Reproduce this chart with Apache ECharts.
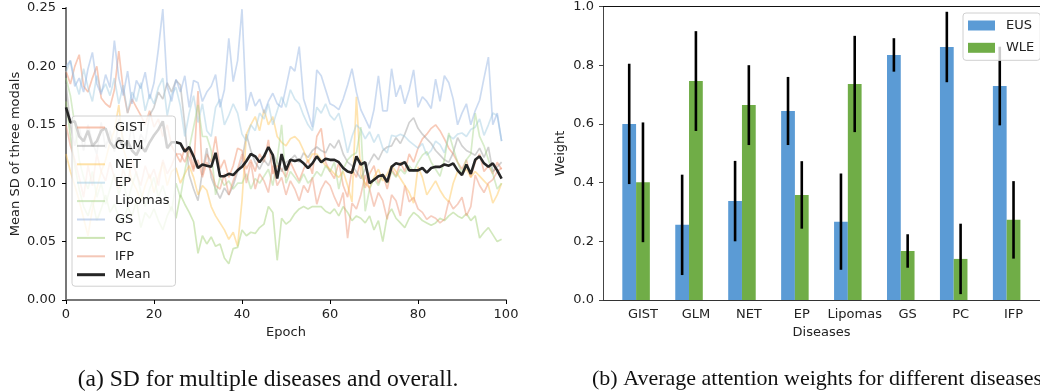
<!DOCTYPE html>
<html>
<head>
<meta charset="utf-8">
<script src="https://cdn.jsdelivr.net/npm/echarts@6/dist/echarts.min.js"></script>
<style>
  html, body { margin: 0; padding: 0; background: #fff; }
  #chart { width: 1040px; height: 392px; }
</style>
</head>
<body>
<div id="chart"></div>
<script>
// ---- left panel: SD per epoch ----
const epochs = Array.from({ length: 100 }, (_, i) => i);
const sdTicks = [0, 0.05, 0.1, 0.15, 0.2, 0.25];

const gist = [
  0.196, 0.185, 0.200, 0.210, 0.183, 0.178, 0.190, 0.200, 0.173, 0.168,
  0.165, 0.180, 0.213, 0.180, 0.160, 0.172, 0.165, 0.158, 0.150, 0.162,
  0.148, 0.155, 0.140, 0.150, 0.132, 0.125, 0.118, 0.130, 0.122, 0.110,
  0.179, 0.107, 0.125, 0.118, 0.140, 0.112, 0.120, 0.105, 0.115, 0.130,
  0.128, 0.112, 0.120, 0.110, 0.125, 0.118, 0.137, 0.108, 0.115, 0.112,
  0.105, 0.118, 0.110, 0.102, 0.112, 0.120, 0.108, 0.140, 0.147, 0.118,
  0.110, 0.104, 0.118, 0.098, 0.088, 0.112, 0.105, 0.120, 0.096, 0.108,
  0.115, 0.100, 0.108, 0.095, 0.112, 0.106, 0.118, 0.110, 0.125, 0.118,
  0.130, 0.138, 0.142, 0.147, 0.150, 0.145, 0.138, 0.130, 0.125, 0.118,
  0.112, 0.120, 0.105, 0.118, 0.125, 0.110, 0.115, 0.108, 0.118, 0.112
];
const glm = [
  0.185, 0.150, 0.132, 0.148, 0.128, 0.150, 0.135, 0.125, 0.152, 0.130,
  0.145, 0.127, 0.155, 0.138, 0.130, 0.150, 0.128, 0.142, 0.135, 0.158,
  0.165, 0.178, 0.172, 0.186, 0.178, 0.188, 0.184, 0.150, 0.107, 0.095,
  0.085, 0.110, 0.130, 0.105, 0.095, 0.087, 0.096, 0.090, 0.098, 0.110,
  0.119, 0.142, 0.128, 0.118, 0.112, 0.120, 0.115, 0.125, 0.118, 0.110,
  0.118, 0.120, 0.124, 0.118, 0.126, 0.122, 0.128, 0.131, 0.128, 0.126,
  0.134, 0.130, 0.137, 0.125, 0.118, 0.115, 0.110, 0.104, 0.112, 0.118,
  0.125, 0.120, 0.128, 0.131, 0.132, 0.139, 0.134, 0.142, 0.152, 0.156,
  0.147, 0.142, 0.138, 0.134, 0.128, 0.124, 0.120, 0.118, 0.126, 0.139,
  0.132, 0.128, 0.126, 0.124, 0.130, 0.122, 0.131, 0.110, 0.114, 0.118
];
const net = [
  0.125, 0.110, 0.098, 0.085, 0.070, 0.055, 0.078, 0.095, 0.110, 0.120,
  0.135, 0.145, 0.167, 0.130, 0.118, 0.102, 0.095, 0.085, 0.098, 0.108,
  0.092, 0.105, 0.118, 0.098, 0.110, 0.113, 0.100, 0.108, 0.115, 0.105,
  0.090, 0.098, 0.094, 0.080, 0.072, 0.066, 0.060, 0.052, 0.058, 0.046,
  0.085, 0.142, 0.150, 0.157, 0.145, 0.163, 0.150, 0.157, 0.140, 0.135,
  0.132, 0.138, 0.140, 0.136, 0.128, 0.118, 0.125, 0.125, 0.120, 0.115,
  0.112, 0.108, 0.105, 0.110, 0.098, 0.084, 0.174, 0.107, 0.100, 0.096,
  0.105, 0.112, 0.102, 0.108, 0.115, 0.110, 0.104, 0.098, 0.092, 0.083,
  0.114, 0.105, 0.090, 0.096, 0.102, 0.094, 0.088, 0.084, 0.100, 0.110,
  0.108, 0.112, 0.105, 0.110, 0.106, 0.102, 0.098, 0.083, 0.090, 0.100
];
const ep = [
  0.195, 0.205, 0.188, 0.176, 0.198, 0.182, 0.170, 0.192, 0.178, 0.185,
  0.175, 0.190, 0.168, 0.184, 0.160, 0.178, 0.170, 0.186, 0.162, 0.176,
  0.168, 0.182, 0.190, 0.158, 0.176, 0.182, 0.166, 0.140, 0.160, 0.175,
  0.152, 0.168, 0.145, 0.140, 0.165, 0.172, 0.150, 0.158, 0.168, 0.160,
  0.142, 0.136, 0.150, 0.145, 0.160, 0.155, 0.168, 0.150, 0.162, 0.174,
  0.165, 0.180, 0.172, 0.168, 0.158, 0.150, 0.145, 0.165, 0.160, 0.168,
  0.158, 0.154, 0.160, 0.145, 0.126, 0.140, 0.150, 0.146, 0.138, 0.144,
  0.135, 0.142, 0.130, 0.126, 0.141, 0.140, 0.142, 0.140, 0.136, 0.133,
  0.130, 0.134, 0.124, 0.128, 0.136, 0.133, 0.126, 0.141, 0.138, 0.142,
  0.143, 0.140, 0.146, 0.148, 0.155, 0.141, 0.150, 0.160, 0.158, 0.136
];
const lipomas = [
  0.190, 0.175, 0.150, 0.120, 0.105, 0.095, 0.110, 0.088, 0.100, 0.082,
  0.095, 0.108, 0.090, 0.102, 0.085, 0.098, 0.110, 0.092, 0.080, 0.095,
  0.105, 0.088, 0.098, 0.085, 0.076, 0.100, 0.088, 0.110, 0.130, 0.148,
  0.167, 0.140, 0.140, 0.128, 0.090, 0.105, 0.098, 0.102, 0.095, 0.100,
  0.100, 0.108, 0.095, 0.104, 0.100, 0.106, 0.112, 0.098, 0.120, 0.150,
  0.100, 0.110, 0.105, 0.100, 0.108, 0.100, 0.104, 0.110, 0.106, 0.115,
  0.110, 0.118, 0.095, 0.112, 0.120, 0.124, 0.126, 0.148, 0.076, 0.095,
  0.104, 0.098, 0.108, 0.100, 0.110, 0.105, 0.112, 0.108, 0.115, 0.110,
  0.118, 0.124, 0.127, 0.118, 0.112, 0.106, 0.120, 0.143, 0.130, 0.118,
  0.108, 0.120, 0.125, 0.160, 0.140, 0.132, 0.120, 0.108, 0.095, 0.100
];
const gs = [
  0.200, 0.205, 0.183, 0.190, 0.178, 0.198, 0.212, 0.185, 0.176, 0.193,
  0.182, 0.222, 0.190, 0.175, 0.196, 0.168, 0.188, 0.181, 0.195, 0.172,
  0.186, 0.215, 0.249, 0.183, 0.170, 0.189, 0.178, 0.192, 0.165, 0.188,
  0.186, 0.170, 0.178, 0.183, 0.193, 0.165, 0.180, 0.224, 0.187, 0.205,
  0.249, 0.162, 0.178, 0.166, 0.172, 0.160, 0.170, 0.177, 0.168, 0.165,
  0.182, 0.200, 0.196, 0.217, 0.172, 0.160, 0.148, 0.197, 0.192, 0.180,
  0.168, 0.166, 0.163, 0.172, 0.184, 0.198, 0.178, 0.163, 0.155, 0.147,
  0.163, 0.192, 0.162, 0.162, 0.198, 0.174, 0.184, 0.168, 0.180, 0.197,
  0.165, 0.174, 0.170, 0.164, 0.189, 0.170, 0.192, 0.186, 0.172, 0.150,
  0.160, 0.168, 0.150, 0.162, 0.171, 0.190, 0.208, 0.150, 0.160, 0.136
];
const pc = [
  0.170, 0.140, 0.115, 0.095, 0.080, 0.072, 0.085, 0.068, 0.078, 0.090,
  0.075, 0.082, 0.070, 0.065, 0.080, 0.072, 0.085, 0.062, 0.075, 0.070,
  0.078, 0.068, 0.060, 0.072, 0.080, 0.070, 0.090, 0.082, 0.075, 0.067,
  0.040, 0.055, 0.048, 0.054, 0.046, 0.048, 0.036, 0.031, 0.044, 0.045,
  0.060, 0.055, 0.058, 0.057, 0.062, 0.065, 0.080, 0.075, 0.034, 0.070,
  0.065, 0.068, 0.074, 0.078, 0.080, 0.078, 0.080, 0.080, 0.080, 0.076,
  0.074, 0.078, 0.072, 0.080, 0.075, 0.068, 0.072, 0.070, 0.066, 0.072,
  0.060, 0.068, 0.050, 0.072, 0.078, 0.070, 0.066, 0.062, 0.070, 0.075,
  0.072, 0.068, 0.066, 0.064, 0.066, 0.070, 0.068, 0.072, 0.075, 0.072,
  0.070, 0.074, 0.068, 0.072, 0.053, 0.058, 0.062, 0.056, 0.050, 0.052
];
const ifp = [
  0.150, 0.132, 0.120, 0.105, 0.088, 0.115, 0.098, 0.125, 0.110, 0.102,
  0.118, 0.105, 0.095, 0.112, 0.100, 0.120, 0.108, 0.098, 0.115, 0.104,
  0.112, 0.098, 0.120, 0.108, 0.115, 0.125, 0.125, 0.118, 0.130, 0.112,
  0.120, 0.105, 0.118, 0.110, 0.098, 0.095, 0.108, 0.090, 0.102, 0.112,
  0.125, 0.100, 0.118, 0.095, 0.108, 0.102, 0.092, 0.115, 0.098, 0.105,
  0.090, 0.102, 0.095, 0.085, 0.098, 0.092, 0.105, 0.082, 0.095, 0.102,
  0.098, 0.088, 0.080, 0.092, 0.053, 0.083, 0.078, 0.090, 0.107, 0.095,
  0.080, 0.092, 0.085, 0.069, 0.090, 0.085, 0.072, 0.098, 0.084, 0.088,
  0.078, 0.075, 0.069, 0.072, 0.070, 0.066, 0.069, 0.085, 0.078, 0.082,
  0.088, 0.072, 0.080, 0.107, 0.098, 0.092, 0.100, 0.103, 0.110, 0.113
];
const mean = [
  0.165, 0.152, 0.153, 0.140, 0.136, 0.145, 0.132, 0.136, 0.145, 0.147,
  0.135, 0.130, 0.139, 0.131, 0.136, 0.128, 0.124, 0.132, 0.127, 0.135,
  0.141, 0.146, 0.153, 0.130, 0.135, 0.135, 0.134, 0.127, 0.131, 0.123,
  0.113, 0.116, 0.115, 0.114, 0.126, 0.106, 0.106, 0.108, 0.107, 0.111,
  0.114, 0.119, 0.125, 0.123, 0.118, 0.123, 0.131, 0.124, 0.104, 0.125,
  0.111, 0.120, 0.119, 0.120, 0.117, 0.113, 0.117, 0.123, 0.118, 0.121,
  0.120, 0.120, 0.118, 0.113, 0.110, 0.109, 0.123, 0.116, 0.118, 0.100,
  0.103, 0.106, 0.107, 0.101, 0.114, 0.117, 0.116, 0.118, 0.111, 0.111,
  0.111, 0.113, 0.109, 0.113, 0.114, 0.114, 0.116, 0.115, 0.117, 0.111,
  0.107, 0.116, 0.108, 0.120, 0.123, 0.117, 0.114, 0.117, 0.111, 0.104
];

const sdSeries = [
  { name: 'GIST', values: gist, color: '#ef8a62' },
  { name: 'GLM', values: glm, color: '#9a9a9a' },
  { name: 'NET', values: net, color: '#fec44f' },
  { name: 'EP', values: ep, color: '#9ecae1' },
  { name: 'Lipomas', values: lipomas, color: '#a6d48a' },
  { name: 'GS', values: gs, color: '#8fb0e0' },
  { name: 'PC', values: pc, color: '#9ccc6c' },
  { name: 'IFP', values: ifp, color: '#ea9070' }
];

// ---- right panel: attention weights ----
const diseases = ['GIST', 'GLM', 'NET', 'EP', 'Lipomas', 'GS', 'PC', 'IFP'];
const weightTicks = [0, 0.2, 0.4, 0.6, 0.8, 1.0];
const eus = [0.600, 0.256, 0.337, 0.644, 0.267, 0.835, 0.862, 0.729];
const eusErr = [0.205, 0.171, 0.137, 0.116, 0.164, 0.057, 0.120, 0.134];
const wle = [0.401, 0.746, 0.664, 0.358, 0.736, 0.167, 0.140, 0.273];
const wleErr = [0.204, 0.170, 0.136, 0.115, 0.164, 0.057, 0.120, 0.132];

const FONT = 'DejaVu Sans';
const SERIF = '"Liberation Serif", "Times New Roman", serif';
const THIN = 'path://M0,0H28V2H0Z';
const THICK = 'path://M0,0H28V3H0Z';

// bar + error bar drawn through the category/value scales
const barWithError = (shift) => (params, api) => {
  const idx = api.value(0);
  const top = api.coord([idx, api.value(1)]);
  const base = api.coord([idx, 0]);
  const band = api.size([1, 0])[0];
  const w = band * 0.26;
  const cx = top[0] + shift * band;
  const hi = api.coord([idx, api.value(1) + api.value(2)]);
  const lo = api.coord([idx, api.value(1) - api.value(2)]);
  return {
    type: 'group',
    children: [
      {
        type: 'rect',
        shape: { x: cx - w / 2, y: top[1], width: w, height: base[1] - top[1] },
        style: { fill: api.visual('color') }
      },
      {
        type: 'line',
        shape: { x1: cx, y1: hi[1], x2: cx, y2: lo[1] },
        style: { stroke: '#000', lineWidth: 2.6 }
      }
    ]
  };
};

const chart = echarts.init(document.getElementById('chart'));

const option = {
  animation: false,
  textStyle: { fontFamily: FONT },
  title: [
    {
      text: '(a) SD for multiple diseases and overall.',
      left: 263, top: 363, textAlign: 'center',
      textStyle: { fontFamily: SERIF, fontWeight: 'normal', fontSize: 23.6, color: '#111' }
    },
    {
      text: '(b) Average attention weights for different diseases',
      left: 587, top: 363,
      textStyle: { fontFamily: SERIF, fontWeight: 'normal', fontSize: 22, color: '#111' }
    }
  ],
  legend: [
    {
      data: sdSeries.map(s => ({ name: s.name, icon: THIN })).concat({ name: 'Mean', icon: THICK }),
      orient: 'vertical',
      left: 72, top: 116,
      padding: [5, 6, 5, 5],
      itemWidth: 28, itemHeight: 14, itemGap: 5.4,
      backgroundColor: 'rgba(255,255,255,0.8)',
      borderColor: '#d0d0d0', borderWidth: 1, borderRadius: 3,
      textStyle: { fontFamily: FONT, fontSize: 13, color: '#222', padding: [0, 0, 0, 5] }
    },
    {
      data: ['EUS', 'WLE'],
      orient: 'vertical',
      left: 963, top: 13,
      padding: [6, 6, 6, 5],
      icon: 'rect',
      itemWidth: 27, itemHeight: 10, itemGap: 9.3,
      backgroundColor: 'rgba(255,255,255,0.8)',
      borderColor: '#d0d0d0', borderWidth: 1, borderRadius: 3,
      textStyle: { fontFamily: FONT, fontSize: 13, color: '#222', padding: [0, 0, 0, 6] }
    }
  ],
  grid: [
    { left: 66, right: 534, top: 8, bottom: 92 },
    { left: 616.5, right: -6, top: 6.5, bottom: 92 },
    { left: 603, right: -6, top: 6.5, bottom: 92 }
  ],
  xAxis: [
    {
      gridIndex: 0, type: 'value', min: 0, max: 100, interval: 20,
      name: 'Epoch', nameLocation: 'middle', nameGap: 26,
      nameTextStyle: { fontSize: 13, color: '#222' },
      axisLine: { lineStyle: { color: '#000', width: 1 } },
      axisTick: { length: 4, lineStyle: { color: '#000' } },
      axisLabel: { fontSize: 13, color: '#222', margin: 8 },
      splitLine: { show: false }
    },
    {
      gridIndex: 0, type: 'value', min: 0, max: 100, position: 'top',
      axisLine: { lineStyle: { color: '#777', width: 2 } },
      axisTick: { show: false }, axisLabel: { show: false }, splitLine: { show: false }
    },
    {
      gridIndex: 1, type: 'category', data: diseases,
      axisLine: { show: false },
      axisTick: { alignWithLabel: true, length: 4, lineStyle: { color: '#000' } },
      axisLabel: { fontSize: 13, color: '#222', margin: 8, interval: 0 },
      splitLine: { show: false }
    },
    {
      gridIndex: 2, type: 'value', min: 0, max: 1,
      name: 'Diseases', nameLocation: 'middle', nameGap: 26,
      nameTextStyle: { fontSize: 13, color: '#222' },
      axisLine: { lineStyle: { color: '#333', width: 1 } },
      axisTick: { show: false }, axisLabel: { show: false }, splitLine: { show: false }
    },
    {
      gridIndex: 2, type: 'value', min: 0, max: 1, position: 'top',
      axisLine: { lineStyle: { color: '#111', width: 1.2 } },
      axisTick: { show: false }, axisLabel: { show: false }, splitLine: { show: false }
    }
  ],
  yAxis: [
    {
      gridIndex: 0, type: 'value', min: 0, max: 0.25, interval: 0.05,
      name: 'Mean SD of three modals', nameLocation: 'middle', nameGap: 44,
      nameTextStyle: { fontSize: 13, color: '#222' },
      axisLine: { show: true, lineStyle: { color: '#000', width: 1 } },
      axisTick: { show: true, length: 4, lineStyle: { color: '#000' } },
      axisLabel: { fontSize: 13, color: '#222', margin: 10, formatter: v => v.toFixed(2) },
      splitLine: { show: false }
    },
    {
      gridIndex: 0, type: 'value', min: 0, max: 0.25, position: 'right',
      axisLine: { show: true, lineStyle: { color: '#777', width: 2 } },
      axisTick: { show: false }, axisLabel: { show: false }, splitLine: { show: false }
    },
    {
      gridIndex: 1, type: 'value', min: 0, max: 1,
      axisLine: { show: false }, axisTick: { show: false },
      axisLabel: { show: false }, splitLine: { show: false }
    },
    {
      gridIndex: 2, type: 'value', min: 0, max: 1, interval: 0.2,
      name: 'Weight', nameLocation: 'middle', nameGap: 36,
      nameTextStyle: { fontSize: 13, color: '#222' },
      axisLine: { show: true, lineStyle: { color: '#444', width: 1 } },
      axisTick: { show: true, length: 4, lineStyle: { color: '#444' } },
      axisLabel: { fontSize: 13, color: '#222', margin: 9, formatter: v => v.toFixed(1) },
      splitLine: { show: false }
    }
  ],
  series: sdSeries.map(s => ({
    name: s.name,
    type: 'line',
    xAxisIndex: 0, yAxisIndex: 0,
    symbol: 'none',
    data: epochs.map((e, i) => [e, s.values[i]]),
    itemStyle: { color: s.color, opacity: 0.5 },
    lineStyle: { color: s.color, width: 1.7, opacity: 0.45 },
    z: 2
  })).concat([
    {
      name: 'Mean',
      type: 'line',
      xAxisIndex: 0, yAxisIndex: 0,
      symbol: 'none',
      data: epochs.map((e, i) => [e, mean[i]]),
      itemStyle: { color: '#262626' },
      lineStyle: { color: '#262626', width: 2.6 },
      z: 3
    },
    {
      name: 'EUS',
      type: 'custom',
      xAxisIndex: 2, yAxisIndex: 2,
      renderItem: barWithError(-0.26),
      itemStyle: { color: '#5b9bd5' },
      encode: { x: 0, y: 1 },
      data: eus.map((v, i) => [i, v, eusErr[i]])
    },
    {
      name: 'WLE',
      type: 'custom',
      xAxisIndex: 2, yAxisIndex: 2,
      renderItem: barWithError(0),
      itemStyle: { color: '#70ad47' },
      encode: { x: 0, y: 1 },
      data: wle.map((v, i) => [i, v, wleErr[i]])
    }
  ])
};

chart.setOption(option);
</script>
</body>
</html>
